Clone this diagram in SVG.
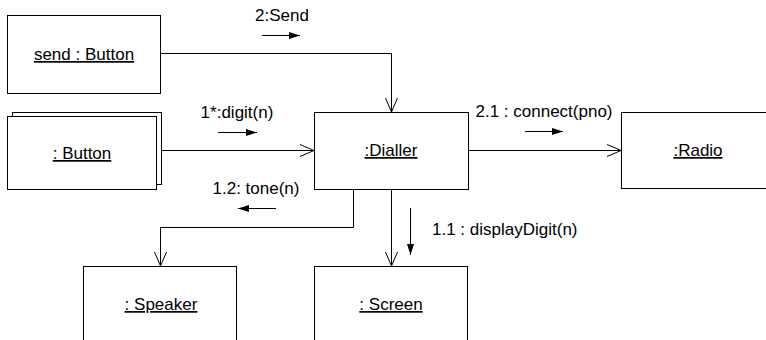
<svg xmlns="http://www.w3.org/2000/svg" width="766" height="340" viewBox="0 0 766 340">
  <style>
    .box { fill: #fff; stroke: #000; stroke-width: 1; }
    .lbl { font-family: "Liberation Sans", Arial, sans-serif; font-size: 17px; fill: #000; text-anchor: middle; text-decoration: underline; }
    .msg { font-family: "Liberation Sans", Arial, sans-serif; font-size: 17px; fill: #000; }
    .conn { fill: none; stroke: #000; stroke-width: 1; marker-end: url(#open); }
    .marr { fill: none; stroke: #000; stroke-width: 1; marker-end: url(#solid); }
  </style>
  <defs>
    <marker id="open" markerUnits="userSpaceOnUse" markerWidth="16" markerHeight="14" refX="14" refY="6" orient="auto" overflow="visible">
      <path d="M0,0 L14,6 L0,12" fill="none" stroke="#000" stroke-width="1"/>
    </marker>
    <marker id="solid" markerUnits="userSpaceOnUse" markerWidth="12" markerHeight="8" refX="11" refY="3.5" orient="auto" overflow="visible">
      <path d="M0,0 L11,3.5 L0,7 Z" fill="#000"/>
    </marker>
  </defs>

  <g id="connectors">
    <path class="conn" d="M160.5 53.5 H391.5 V112"/>
    <path class="conn" d="M161 150.5 H314"/>
    <path class="conn" d="M468 150.5 H621"/>
    <path class="conn" d="M353.5 189 V227.5 H160.5 V266"/>
    <path class="conn" d="M391.5 189 V266"/>
  </g>

  <g id="messages">
    <text class="msg" x="282" y="21" text-anchor="middle">2:Send</text>
    <path class="marr" d="M262 35.5 H300"/>
    <text class="msg" x="237" y="118" text-anchor="middle">1*:digit(n)</text>
    <path class="marr" d="M218 132.5 H257"/>
    <text class="msg" x="544" y="117" text-anchor="middle">2.1 : connect(pno)</text>
    <path class="marr" d="M525 131.5 H563"/>
    <text class="msg" x="256" y="194" text-anchor="middle">1.2: tone(n)</text>
    <path class="marr" d="M276 208.5 H238"/>
    <text class="msg" x="432" y="235">1.1 : displayDigit(n)</text>
    <path class="marr" d="M410.5 208 V255"/>
  </g>

  <g id="send-button">
    <rect class="box" x="7.5" y="15.5" width="153" height="78"/>
    <text class="lbl" x="84" y="60">send : Button</text>
  </g>

  <g id="button">
    <rect class="box" x="12.5" y="112.5" width="149" height="72"/>
    <rect class="box" x="7.5" y="116.5" width="149" height="73"/>
    <text class="lbl" x="82" y="159">: Button</text>
  </g>

  <g id="dialler">
    <rect class="box" x="314.5" y="112.5" width="154" height="77"/>
    <text class="lbl" x="391" y="156">:Dialler</text>
  </g>

  <g id="radio">
    <rect class="box" x="621.5" y="112.5" width="160" height="76"/>
    <text class="lbl" x="698" y="156">:Radio</text>
  </g>

  <g id="speaker">
    <rect class="box" x="83.5" y="266.5" width="153" height="100"/>
    <text class="lbl" x="161" y="310">: Speaker</text>
  </g>

  <g id="screen">
    <rect class="box" x="314.5" y="266.5" width="153" height="100"/>
    <text class="lbl" x="391" y="310">: Screen</text>
  </g>
</svg>
